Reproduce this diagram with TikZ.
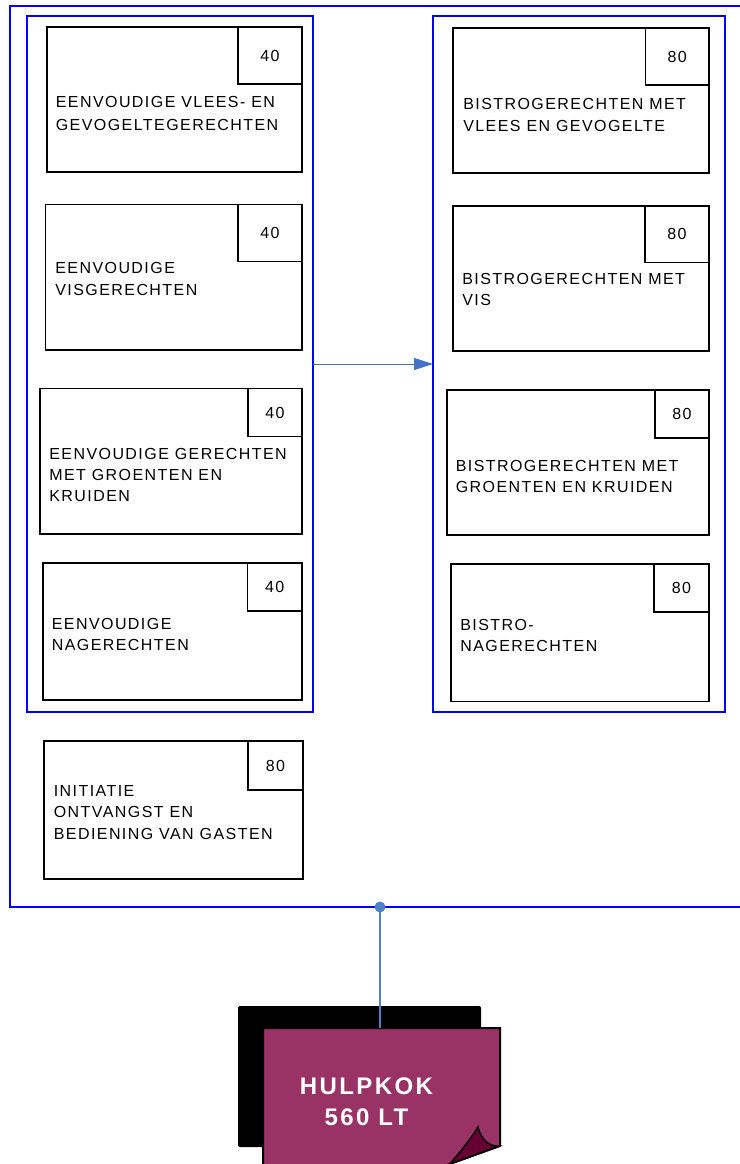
\documentclass[tikz,border=0pt]{standalone}
\usepackage{fontspec}
\setmainfont{Liberation Sans}
\newfontfamily\boxfont[LetterSpace=9]{Liberation Sans}
\newfontfamily\hkfont[LetterSpace=10]{Liberation Sans}
\usetikzlibrary{arrows.meta}
\definecolor{plum}{HTML}{993366}
\definecolor{curl}{HTML}{660033}
\definecolor{arrowblue}{HTML}{4472C4}
\definecolor{connblue}{HTML}{4F81C7}
\tikzset{
  dbox/.style={draw=black, line width=1.4pt, anchor=north west, inner sep=0pt, outer sep=0pt},
  nbox/.style={draw=black, line width=1.4pt, anchor=north east, inner sep=0pt, outer sep=0pt,
    font=\boxfont\fontsize{16}{18}\selectfont},
  txt/.style={anchor=north west, inner sep=0pt, outer sep=0pt, align=left,
    font=\boxfont\fontsize{16}{#1}\selectfont},
  txt/.default=21.5,
  cont/.style={draw=blue, line width=2.4pt, anchor=north west, inner sep=0pt, outer sep=0pt},
  outerbox/.style={draw=blue, line width=1.4pt, anchor=north west, inner sep=0pt, outer sep=0pt},
  arr/.style={draw=arrowblue, line width=1pt, -{Triangle[length=19pt,width=12pt]}},
  conn/.style={draw=connblue, line width=1.1pt},
  hktext/.style={text=white, align=center, inner sep=0pt,
    font=\hkfont\bfseries\fontsize{24}{31}\selectfont}
}
\begin{document}
\begin{tikzpicture}[x=1pt,y=-1pt]
\useasboundingbox (0,0) rectangle (739,1164);
% outer frame
\node[outerbox, minimum width=740pt, minimum height=901pt] (outer) at (10,6) {};
% containers
\node[cont, minimum width=286pt, minimum height=696pt] (L) at (27,16) {};
\node[cont, minimum width=292pt, minimum height=696pt] (R) at (433,16) {};
% left boxes
\node[dbox, minimum width=255pt, minimum height=145pt] (l1) at (47,27) {};
\node[nbox, minimum width=64pt, minimum height=57pt] (l1n) at (l1.north east) {40};
\node[txt=22.8] (l1t) at (55.8,96.8) {EENVOUDIGE VLEES- EN\\GEVOGELTEGERECHTEN};

\node[dbox, minimum width=256.5pt, minimum height=145.5pt] (l2) at (45.5,204.5) {};
\node[nbox, minimum width=64pt, minimum height=57pt] (l2n) at (l2.north east) {40};
\node[txt=22] (l2t) at (55.3,262.8) {EENVOUDIGE\\VISGERECHTEN};

\node[dbox, minimum width=262pt, minimum height=145.5pt] (l3) at (40,388.5) {};
\node[nbox, minimum width=54pt, minimum height=48pt] (l3n) at (l3.north east) {40};
\node[txt=21] (l3t) at (49.3,448.8) {EENVOUDIGE GERECHTEN\\MET GROENTEN EN\\KRUIDEN};

\node[dbox, minimum width=259pt, minimum height=137pt] (l4) at (43,563) {};
\node[nbox, minimum width=54.5pt, minimum height=48pt] (l4n) at (l4.north east) {40};
\node[txt=21.5] (l4t) at (51.8,618.3) {EENVOUDIGE\\NAGERECHTEN};

\node[dbox, minimum width=259pt, minimum height=138pt] (l5) at (44,741) {};
\node[nbox, minimum width=55pt, minimum height=49pt] (l5n) at (l5.north east) {80};
\node[txt=21.5] (l5t) at (53.8,785.3) {INITIATIE\\ONTVANGST EN\\BEDIENING VAN GASTEN};
% right boxes
\node[dbox, minimum width=256pt, minimum height=145pt] (r1) at (453,28) {};
\node[nbox, minimum width=63.5pt, minimum height=57pt] (r1n) at (r1.north east) {80};
\node[txt=22] (r1t) at (463.3,98.3) {BISTROGERECHTEN MET\\VLEES EN GEVOGELTE};

\node[dbox, minimum width=256pt, minimum height=145pt] (r2) at (453,206) {};
\node[nbox, minimum width=64pt, minimum height=56.5pt] (r2n) at (r2.north east) {80};
\node[txt=21.5] (r2t) at (462.3,273.3) {BISTROGERECHTEN MET\\VIS};

\node[dbox, minimum width=262pt, minimum height=145pt] (r3) at (447,390) {};
\node[nbox, minimum width=54pt, minimum height=48pt] (r3n) at (r3.north east) {80};
\node[txt=21] (r3t) at (455.8,460.3) {BISTROGERECHTEN MET\\GROENTEN EN KRUIDEN};

\node[dbox, minimum width=258pt, minimum height=137.5pt] (r4) at (451,564) {};
\node[nbox, minimum width=55pt, minimum height=48pt] (r4n) at (r4.north east) {80};
\node[txt=21.5] (r4t) at (460.3,619.3) {BISTRO-\\NAGERECHTEN};
% arrow between containers
\draw[arr] (L.east |- 0,364) -- (R.west |- 0,364);
% HULPKOK shape
\fill[black, rounded corners=2pt] (238,1006) rectangle (481,1147);
\filldraw[fill=plum, draw=black, line width=2pt]
  (263,1028) -- (500,1028) -- (500,1146) -- (433,1170) -- (263,1170) -- cycle;
\filldraw[fill=curl, draw=black, line width=1.5pt]
  (450,1164) -- (499,1146) .. controls (490,1147) and (481,1140) .. (478,1127)
  .. controls (470,1140) and (460,1152) .. (450,1164) -- cycle;
\node[hktext] (hulp) at (366.5,1101.5) {HULPKOK\\560 LT};
\coordinate (hk) at (380,1028);
% connector
\coordinate (dot) at (380,907);
\draw[conn] (dot) -- (hk);
\fill[connblue] (dot) circle[radius=5.5pt];
\end{tikzpicture}
\end{document}
